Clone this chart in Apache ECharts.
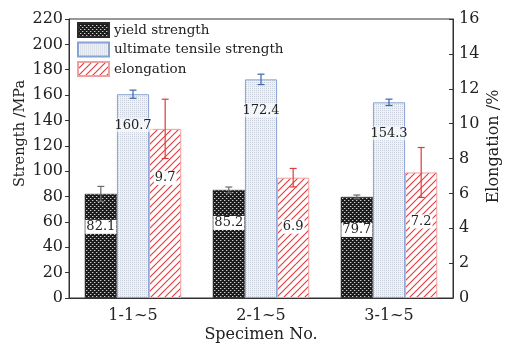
<!DOCTYPE html>
<html><head><meta charset="utf-8">
<script src="https://cdn.jsdelivr.net/npm/echarts@6/dist/echarts.min.js"></script>
<style>html,body{margin:0;padding:0;background:#fff}#c{width:505px;height:344px}</style>
</head><body><div id="c"></div>
<script>
const categories = ['1-1~5', '2-1~5', '3-1~5'];
const seriesNames = ['yield strength', 'ultimate tensile strength', 'elongation'];
const yieldStrength = [82.1, 85.2, 79.7];
const yieldErr = [5.9, 2.3, 1.5];
const utsStrength = [160.7, 172.4, 154.3];
const utsErr = [3.2, 4.1, 2.5];
const elongation = [9.7, 6.9, 7.2];
const elongErr = [1.7, 0.53, 1.43];
const strengthAxis = { min: 0, max: 220, interval: 20 };
const elongAxis = { min: 0, max: 16, interval: 2 };

const FONT = 'DejaVu Serif';
const GAP = 0.246;

function makePattern(w, h, draw) {
  const c = document.createElement('canvas');
  c.width = w; c.height = h;
  const ctx = c.getContext('2d');
  draw(ctx);
  return { image: c, repeat: 'repeat' };
}
const yieldPat = makePattern(4, 4, ctx => {
  ctx.fillStyle = '#1c1c1c'; ctx.fillRect(0, 0, 4, 4);
  ctx.fillStyle = '#d0d0d0'; ctx.fillRect(0, 0, 1, 1); ctx.fillRect(2, 2, 1, 1);
  ctx.fillStyle = '#5a5a5a'; ctx.fillRect(1, 0, 1, 1); ctx.fillRect(3, 2, 1, 1);
});
const utsPat = makePattern(2, 2, ctx => {
  ctx.fillStyle = '#eef1f6'; ctx.fillRect(0, 0, 2, 2);
  ctx.fillStyle = '#c9d0dc'; ctx.fillRect(0, 0, 1, 1);
});
const elongPat = makePattern(7, 7, ctx => {
  ctx.fillStyle = '#ffffff'; ctx.fillRect(0, 0, 7, 7);
  ctx.strokeStyle = '#e8383a'; ctx.lineWidth = 1.1;
  ctx.beginPath();
  ctx.moveTo(-1, 8); ctx.lineTo(8, -1);
  ctx.moveTo(-8, 8); ctx.lineTo(1, -1);
  ctx.moveTo(6, 8); ctx.lineTo(15, -1);
  ctx.stroke();
});

function labelCfg(dy, bg) {
  return {
    show: true, position: ['50%', dy], align: 'center', verticalAlign: 'middle',
    fontFamily: FONT, fontSize: 13, color: '#222',
    backgroundColor: bg, padding: [1, 1, 0, 1]
  };
}

function errSeries(idx, values, errs, axisIdx, color) {
  return {
    type: 'custom', yAxisIndex: axisIdx, z: 10, silent: true,
    data: values.map((v, i) => [i, v - errs[i], v + errs[i]]),
    encode: { x: 0, y: [1, 2] },
    renderItem: function (params, api) {
      const band = api.size([1, 0])[0];
      const bw = band * (1 - GAP) / 3;
      const off = (idx - 1) * bw;
      const lo = api.coord([api.value(0), api.value(1)]);
      const hi = api.coord([api.value(0), api.value(2)]);
      const x = lo[0] + off;
      const cap = 3.5;
      const st = { stroke: color, lineWidth: 1.2 };
      return {
        type: 'group', children: [
          { type: 'line', shape: { x1: x, y1: lo[1], x2: x, y2: hi[1] }, style: st },
          { type: 'line', shape: { x1: x - cap, y1: lo[1], x2: x + cap, y2: lo[1] }, style: st },
          { type: 'line', shape: { x1: x - cap, y1: hi[1], x2: x + cap, y2: hi[1] }, style: st }
        ]
      };
    }
  };
}

const axisText = { fontFamily: FONT, fontSize: 16, color: '#222' };
const chart = echarts.init(document.getElementById('c'), null, { renderer: 'canvas' });
chart.setOption({
  animation: false,
  backgroundColor: '#fff',
  grid: { left: 69, right: 52, top: 19, bottom: 46, outerBoundsMode: 'none', containLabel: false,
    show: true, borderColor: '#333', borderWidth: 1, backgroundColor: 'transparent' },
  legend: {
    data: seriesNames, orient: 'vertical', left: 72, top: 17,
    icon: 'rect',
    itemWidth: 31, itemHeight: 14, itemGap: 3.5,
    textStyle: { fontFamily: FONT, fontSize: 13.5, color: '#222' },
    selectedMode: false
  },
  xAxis: {
    type: 'category', data: categories,
    axisLine: { lineStyle: { color: '#333' } },
    axisTick: { show: false },
    axisLabel: Object.assign({ margin: 10 }, axisText),
    name: 'Specimen No.', nameLocation: 'middle', nameGap: 29, nameMoveOverlap: false,
    nameTextStyle: { fontFamily: FONT, fontSize: 16, color: '#222' }
  },
  yAxis: [{
    type: 'value', min: strengthAxis.min, max: strengthAxis.max, interval: strengthAxis.interval,
    axisLine: { show: true, lineStyle: { color: '#333' } },
    axisTick: { show: true, length: 4, lineStyle: { color: '#333' } },
    splitLine: { show: false },
    axisLabel: Object.assign({ margin: 6 }, axisText),
    name: 'Strength /MPa', nameLocation: 'middle', nameGap: 41, nameMoveOverlap: false,
    nameTextStyle: { fontFamily: FONT, fontSize: 14.5, color: '#222', padding: [0, 0, 0, 50] }
  }, {
    type: 'value', min: elongAxis.min, max: elongAxis.max, interval: elongAxis.interval,
    position: 'right',
    axisLine: { show: true, lineStyle: { color: '#333' } },
    axisTick: { show: true, inside: true, length: 4, lineStyle: { color: '#333' } },
    splitLine: { show: false },
    axisLabel: Object.assign({ margin: 6 }, axisText),
    name: 'Elongation /%', nameLocation: 'middle', nameGap: 33, nameMoveOverlap: false,
    nameTextStyle: { fontFamily: FONT, fontSize: 16, color: '#222', padding: [0, 0, 0, 24] }
  }],
  series: [
    {
      name: seriesNames[0], type: 'bar', data: yieldStrength, yAxisIndex: 0,
      barGap: '0%', barCategoryGap: (GAP * 100) + '%',
      itemStyle: { color: yieldPat, borderColor: '#2a2a2a', borderWidth: 0.5 },
      label: labelCfg(33, '#fff')
    },
    {
      name: seriesNames[1], type: 'bar', data: utsStrength, yAxisIndex: 0,
      barGap: '0%', barCategoryGap: (GAP * 100) + '%',
      itemStyle: { color: utsPat, borderColor: '#87a2d4', borderWidth: 1 },
      label: labelCfg(31, 'rgba(255,255,255,0.6)')
    },
    {
      name: seriesNames[2], type: 'bar', data: elongation, yAxisIndex: 1,
      barGap: '0%', barCategoryGap: (GAP * 100) + '%',
      itemStyle: { color: elongPat, borderColor: '#f0a0a0', borderWidth: 1 },
      label: labelCfg(49, '#fff')
    },
    errSeries(0, yieldStrength, yieldErr, 0, '#6a6a6a'),
    errSeries(1, utsStrength, utsErr, 0, '#3d63ad'),
    errSeries(2, elongation, elongErr, 1, '#e03a3a')
  ]
});
</script></body></html>
